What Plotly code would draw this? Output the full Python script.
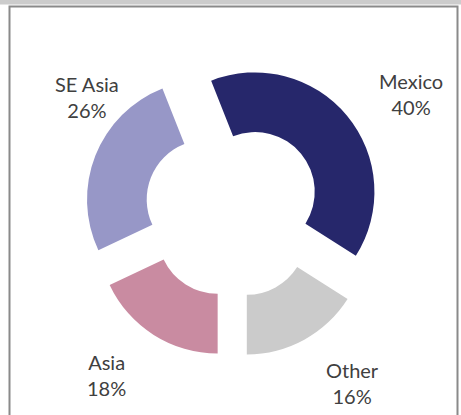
import plotly.graph_objects as go

# Data
regions = ["Mexico", "Other", "Asia", "SE Asia"]
shares = [40, 16, 18, 26]
colors = ["#26276b", "#cbcbcb", "#c98ba1", "#9797c7"]

# Label placement (pixel centres of each two-line label)
label_pos = {"Mexico": (411, 94), "Other": (352, 383), "Asia": (106, 375), "SE Asia": (87, 97)}

W, H = 461, 415
cx, cy = 233, 210
outer = 148  # radius including pull

fig = go.Figure(go.Pie(
    labels=regions, values=shares, sort=False, direction="clockwise",
    rotation=-21.6, hole=0.5, pull=[0.24] * len(regions),
    marker=dict(colors=colors, line=dict(width=0)),
    textinfo="none", hoverinfo="label+percent", showlegend=False,
    domain=dict(x=[(cx - outer) / W, (cx + outer) / W],
                y=[(H - cy - outer) / H, (H - cy + outer) / H]),
))

for name, val in zip(regions, shares):
    px, py = label_pos[name]
    fig.add_annotation(x=px / W, y=1 - py / H, xref="paper", yref="paper",
                       text=f"{name}<br>{val}%", showarrow=False,
                       xanchor="center", yanchor="middle",
                       font=dict(family="Lato", size=20, color="#404040"))

fig.add_shape(type="rect", xref="paper", yref="paper", x0=0, x1=1,
              y0=1 - 4.5 / H, y1=1.01, fillcolor="#cccccc", line=dict(width=0), layer="below")
fig.add_shape(type="rect", xref="paper", yref="paper", x0=9.5 / W, x1=457.5 / W,
              y0=-0.05, y1=1 - 6.5 / H, fillcolor="rgba(0,0,0,0)",
              line=dict(color="#8a8a8a", width=2), layer="below")

fig.update_layout(width=W, height=H, margin=dict(l=0, r=0, t=0, b=0),
                  paper_bgcolor="white", plot_bgcolor="white")
fig.write_html("out.html", config={"displayModeBar": False},
               post_script="document.body.style.margin='0';document.body.style.overflow='hidden';")
